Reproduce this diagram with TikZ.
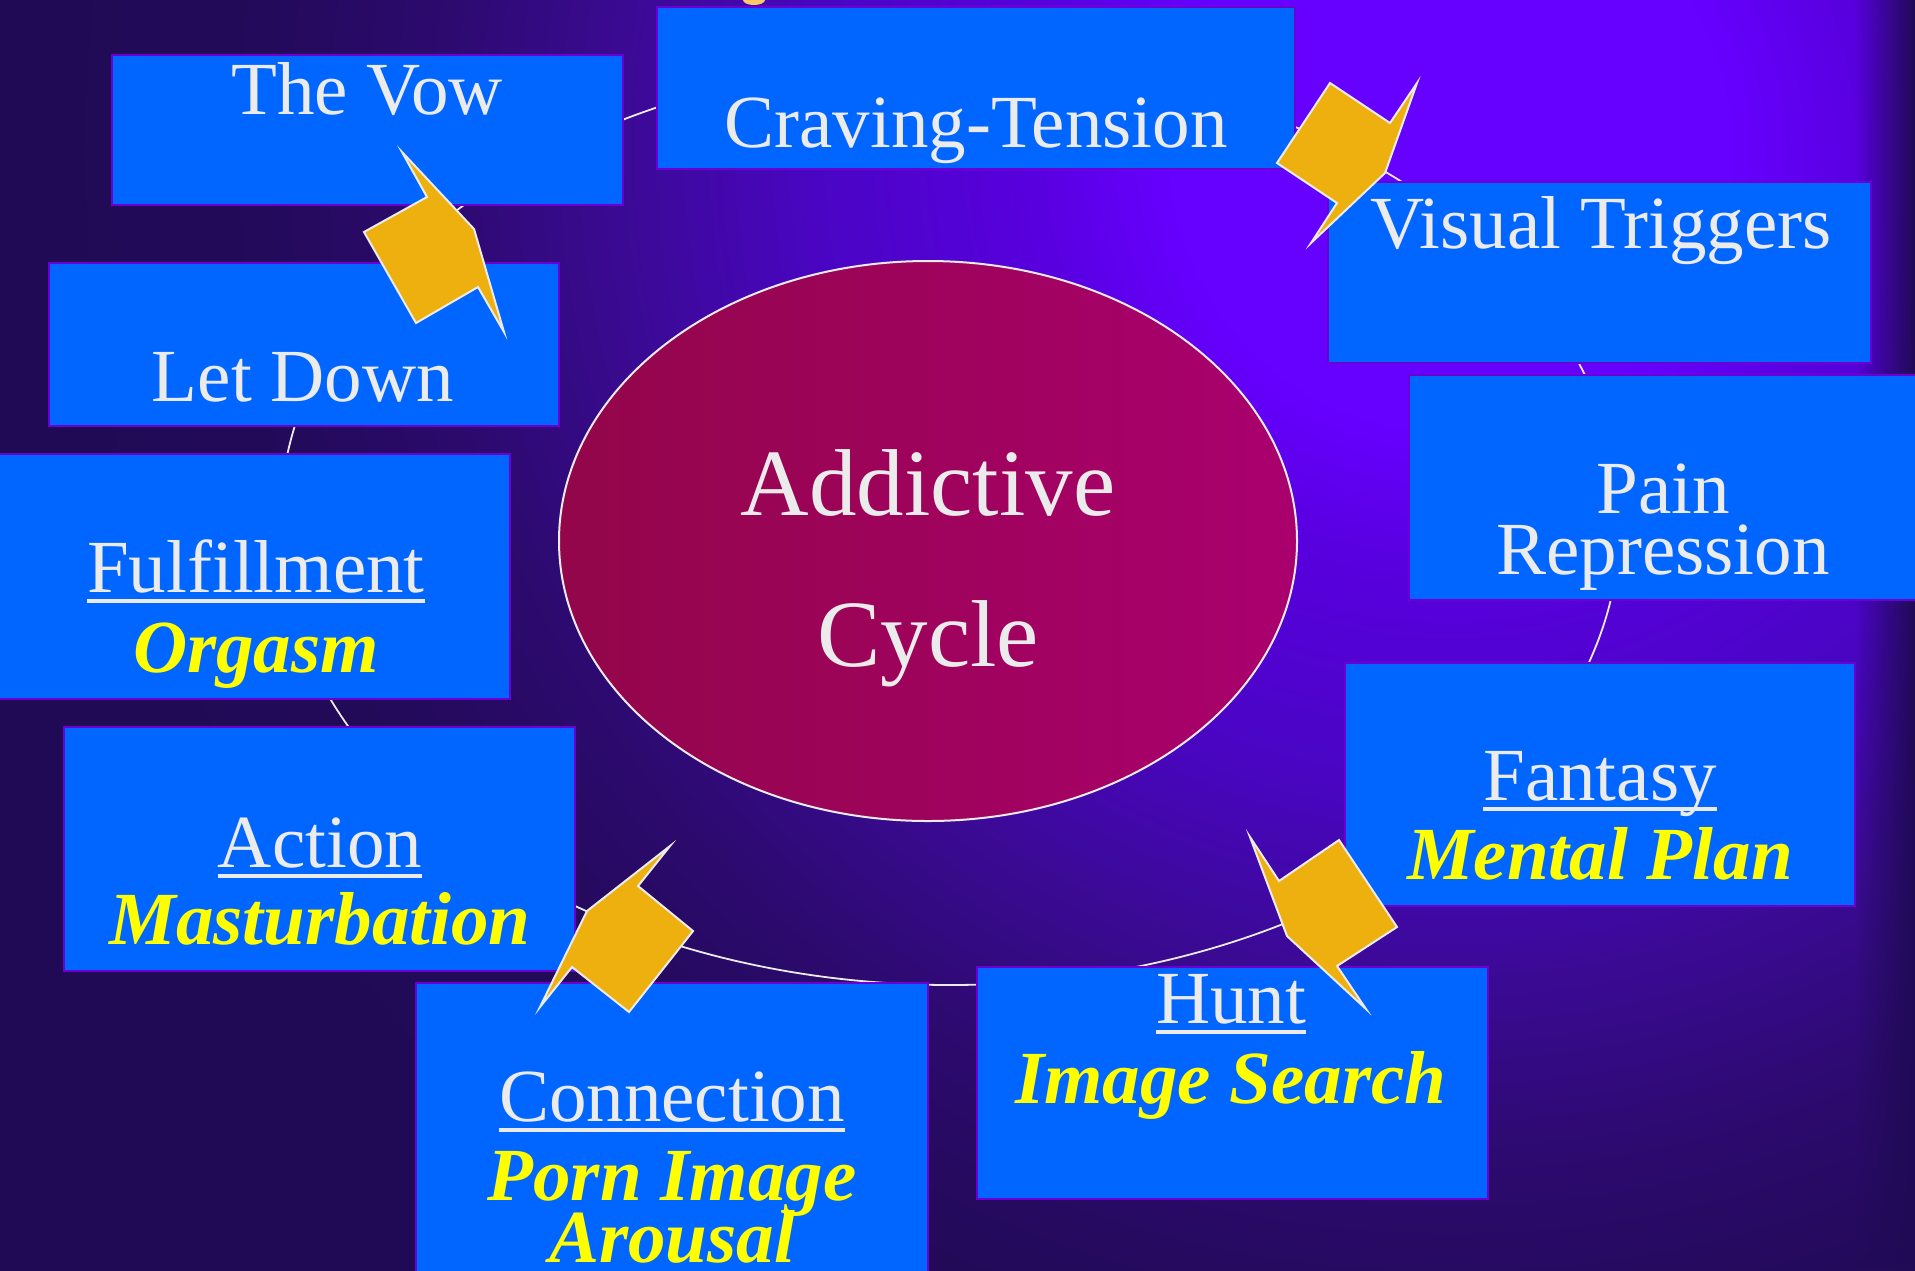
\documentclass[tikz,border=0pt]{standalone}
\usepackage{fontspec}
\setmainfont{Liberation Serif}
\usetikzlibrary{shapes.geometric,fadings}

\definecolor{stageblue}{HTML}{0066FF}
\definecolor{edgeviolet}{HTML}{6A00D4}
\definecolor{paper}{HTML}{EBEBEB}
\definecolor{actyellow}{HTML}{FFFF00}
\definecolor{gold}{HTML}{EDB00E}
\definecolor{titlegold}{HTML}{F8C86A}
\definecolor{core1}{HTML}{93064A}
\definecolor{core2}{HTML}{AA006E}
\definecolor{glow0}{HTML}{6600FF}
\definecolor{glow1}{HTML}{5800DE}
\definecolor{glow2}{HTML}{4A05C4}
\definecolor{glow3}{HTML}{3A0A92}
\definecolor{glow4}{HTML}{2C0A6E}
\definecolor{glow5}{HTML}{230A5A}
\definecolor{glow6}{HTML}{200A55}

\pgfdeclareradialshading{violetglow}{\pgfpoint{0bp}{0bp}}{color(0bp)=(glow0); color(4bp)=(glow0); color(6bp)=(glow1); color(9bp)=(glow2); color(12bp)=(glow3); color(14.5bp)=(glow4); color(17bp)=(glow5); color(20bp)=(glow6); color(50bp)=(glow6)}
\tikzfading[name=edgefade, left color=transparent!100, right color=transparent!0]

% underlined stage name
\newcommand\stagehead[1]{\setbox0\hbox{#1}\rlap{\rule[-5.5pt]{\wd0}{1.8pt}}\box0}

\tikzset{
  stage/.style={draw=edgeviolet, fill=stageblue, line width=1.2pt, inner sep=0pt},
  word/.style={text=paper, font=\fontsize{37.5}{40}\selectfont, anchor=base, inner sep=0pt},
  act/.style={text=actyellow, font=\fontsize{37.5}{40}\selectfont\bfseries\itshape, anchor=base, inner sep=0pt},
  core/.style={ellipse, draw=paper, line width=1pt, left color=core1, right color=core2, inner sep=0pt},
  corword/.style={text=paper, font=\fontsize{47.5}{50}\selectfont, anchor=base, inner sep=0pt},
  pointer/.style={fill=gold, draw=paper, line width=1pt, line join=miter},
  ring/.style={draw=paper, line width=0.9pt}
}

\begin{document}
\begin{tikzpicture}[x=0.5pt, y=-0.5pt]
	\useasboundingbox (0,0) rectangle (1915,1270);
	%background
	\begin{scope}
		\clip (0,0) rectangle (1915,1270);
		\shade[shading=violetglow] (-300,-1600) rectangle (3200,1900);
		\fill[glow6, path fading=edgefade] (1855,0) rectangle (1915,1270);
		\fill[titlegold] (754,0) ellipse [x radius=5.5pt, y radius=2.5pt];
	\end{scope}
	%cycle line
	\coordinate (hub) at (950,523);
	\draw[ring] (hub) ellipse [x radius=335pt, y radius=231pt];
	%stages
	\node[stage, minimum width=255.5pt, minimum height=75pt] (vow) at (367.5,130) {};
	\node[stage, minimum width=319pt, minimum height=81pt] (craving) at (976,88) {};
	\node[stage, minimum width=271.5pt, minimum height=90.5pt] (visual) at (1599.5,272.5) {};
	\node[stage, minimum width=254pt, minimum height=112.5pt] (pain) at (1663,487.5) {};
	\node[stage, minimum width=255pt, minimum height=121.5pt] (fantasy) at (1600,784.5) {};
	\node[stage, minimum width=255.5pt, minimum height=116pt] (hunt) at (1232.5,1083) {};
	\node[stage, minimum width=256pt, minimum height=153.5pt] (connection) at (672,1136.5) {};
	\node[stage, minimum width=255.5pt, minimum height=122pt] (action) at (319.5,849) {};
	\node[stage, minimum width=256pt, minimum height=122.5pt] (fulfil) at (254,576.5) {};
	\node[stage, minimum width=255pt, minimum height=81.5pt] (letdown) at (304,344.5) {};
	%labels
	\node[word] (vow-t) at (367,114) {The Vow};
	\node[word] (craving-t) at (976,147) {Craving-Tension};
	\node[word] (visual-t) at (1601,248) {Visual Triggers};
	\node[word] (pain-t) at (1663,513) {Pain};
	\node[word] (pain-b) at (1663,574) {Repression};
	\node[word] (fantasy-t) at (1600,800) {\stagehead{Fantasy}};
	\node[act] (fantasy-b) at (1600,879) {Mental Plan};
	\node[word] (hunt-t) at (1231,1023) {\stagehead{Hunt}};
	\node[act] (hunt-b) at (1231,1103) {Image Search};
	\node[word] (connection-t) at (672,1121) {\stagehead{Connection}};
	\node[act] (connection-b) at (672,1200) {Porn Image};
	\node[act] (connection-c) at (672,1262) {Arousal};
	\node[word] (action-t) at (320,867) {\stagehead{Action}};
	\node[act] (action-b) at (320,944) {Masturbation};
	\node[word] (fulfil-t) at (256,592) {\stagehead{Fulfillment}};
	\node[act] (fulfil-b) at (256,672) {Orgasm};
	\node[word] (letdown-t) at (303,401) {Let Down};
	%centre
	\node[core, minimum width=369pt, minimum height=280pt] (core) at (928,541) {};
	\node[corword] (core-t) at (928,515) {Addictive};
	\node[corword] (core-b) at (928,666) {Cycle};
	%arrows
	\draw[pointer] (402,152) -- (427,197) -- (364,232) -- (416,323) -- (478,287) -- (504,332) -- (474,229) -- cycle;
	\draw[pointer] (1330,83) -- (1390,123) -- (1417,83) -- (1385,173) -- (1311,243) -- (1337,203) -- (1277,163) -- cycle;
	\draw[pointer] (1250,837) -- (1279,881) -- (1339,840) -- (1397,927) -- (1337,966) -- (1366,1009) -- (1287,936) -- cycle;
	\draw[pointer] (670,846) -- (638,886) -- (693,931) -- (629,1012) -- (572,967) -- (540,1007) -- (587,911) -- cycle;
\end{tikzpicture}
\end{document}
